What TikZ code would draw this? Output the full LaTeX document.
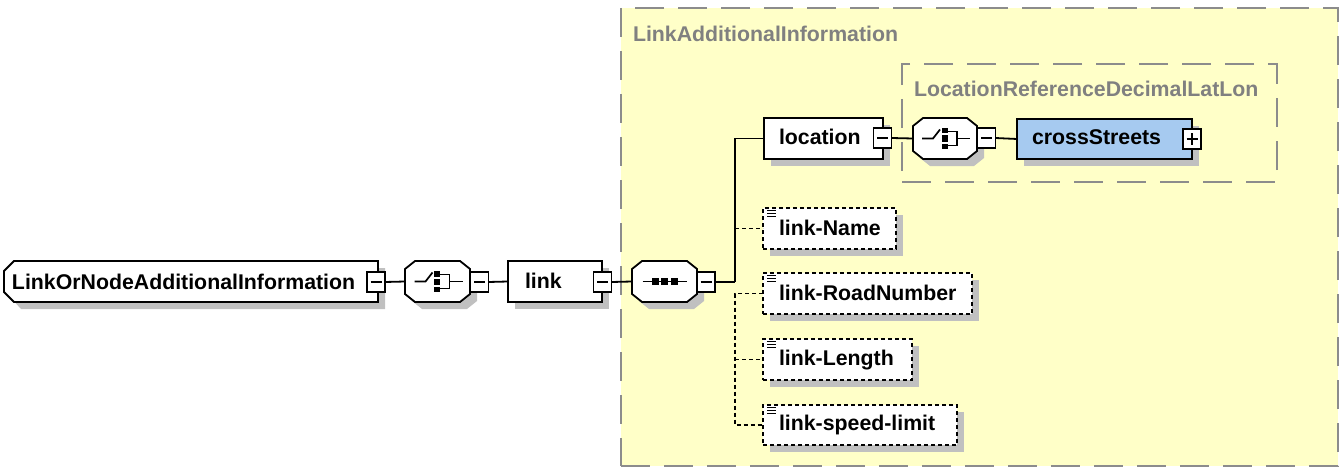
\documentclass[tikz,border=0pt]{standalone}
\usepackage{fontspec}
\setmainfont{Liberation Sans}
\usetikzlibrary{calc,shadows}
\definecolor{grpyellow}{RGB}{255,255,200}
\definecolor{grpline}{RGB}{140,140,140}
\definecolor{grptext}{RGB}{128,128,128}
\definecolor{shadowgray}{RGB}{192,192,192}
\definecolor{elemblue}{RGB}{166,202,240}
\tikzset{
  grp/.style={draw=grpline, fill=grpyellow, line width=2pt, dash pattern=on 29pt off 14pt, inner sep=0pt, outer sep=0pt},
  grplabel/.style={text=grptext, inner sep=0pt, outer sep=0pt},
  elem/.style={draw=black, fill=white, line width=1.8pt, inner sep=0pt, outer sep=0pt,
    drop shadow={shadow xshift=7pt, shadow yshift=-7pt, fill=shadowgray, opacity=1}},
  optelem/.style={elem, dash pattern=on 4pt off 3pt},
  holder/.style={draw=none, inner sep=0pt, outer sep=0pt},
  lbl/.style={inner sep=0pt, outer sep=0pt, text=black},
  mbox/.style={draw=black, fill=white, line width=1.6pt, minimum width=18pt, minimum height=20pt, inner sep=0pt, outer sep=0pt,
    path picture={\draw[line width=1.6pt] ([xshift=3.5pt]path picture bounding box.west) -- ([xshift=-3.5pt]path picture bounding box.east);}},
  pbox/.style={mbox,
    path picture={\draw[line width=1.6pt] ([xshift=3.5pt]path picture bounding box.west) -- ([xshift=-3.5pt]path picture bounding box.east);
                  \draw[line width=1.6pt] ([yshift=-4.5pt]path picture bounding box.north) -- ([yshift=4.5pt]path picture bounding box.south);}},
  conn/.style={draw=black, line width=1.8pt},
  oconn/.style={draw=black, line width=1.8pt, dash pattern=on 4pt off 3pt},
  octo/.style={draw=black, fill=white, line width=1.8pt},
  octshadow/.style={fill=shadowgray},
  icon/.style={draw=black, line width=1.7pt},
}
\newcommand\octpath[3]{([shift={(10+#2,#3)}]#1.north west) -- ([shift={(-10+#2,#3)}]#1.north east) -- ([shift={(#2,8+#3)}]#1.north east) -- ([shift={(#2,-8+#3)}]#1.south east) -- ([shift={(-10+#2,#3)}]#1.south east) -- ([shift={(10+#2,#3)}]#1.south west) -- ([shift={(#2,-8+#3)}]#1.south west) -- ([shift={(#2,8+#3)}]#1.north west) -- cycle}
\newcommand\drawocto[1]{\fill[octshadow] \octpath{#1}{7}{7}; \draw[octo] \octpath{#1}{0}{0};}
\newcommand\choiceicon[1]{%
  \draw[icon] ([shift={(-23,0)}]#1.center) -- ([shift={(-12,0)}]#1.center) -- ([shift={(-5,-9)}]#1.center);
  \fill ([shift={(-3.5,-10.5)}]#1.center) rectangle ([shift={(2.5,-5)}]#1.center);
  \fill ([shift={(-3.5,-3)}]#1.center) rectangle ([shift={(2.5,3)}]#1.center);
  \fill ([shift={(-3.5,5)}]#1.center) rectangle ([shift={(2.5,10.5)}]#1.center);
  \draw[icon] ([shift={(2,-7)}]#1.center) -- ([shift={(12,-7)}]#1.center) -- ([shift={(12,7)}]#1.center) -- ([shift={(2,7)}]#1.center);
  \draw[icon] ([shift={(12,0)}]#1.center) -- ([shift={(25,0)}]#1.center);}
\newcommand\seqicon[1]{%
  \draw[icon] ([shift={(-22,0)}]#1.center) -- ([shift={(22,0)}]#1.center);
  \fill ([shift={(-13,-3.5)}]#1.center) rectangle ([shift={(-6,3.5)}]#1.center);
  \fill ([shift={(-3.5,-3.5)}]#1.center) rectangle ([shift={(3.5,3.5)}]#1.center);
  \fill ([shift={(6,-3.5)}]#1.center) rectangle ([shift={(13,3.5)}]#1.center);}
\newcommand\texticon[1]{%
  \draw[line width=1.3pt] ([shift={(4,2.5)}]#1.north west) -- ([shift={(13,2.5)}]#1.north west);
  \draw[line width=1.3pt] ([shift={(4,5.5)}]#1.north west) -- ([shift={(13,5.5)}]#1.north west);
  \draw[line width=1.3pt] ([shift={(4,8.5)}]#1.north west) -- ([shift={(13,8.5)}]#1.north west);}
\begin{document}
\begin{tikzpicture}[x=1pt, y=-1pt, font=\fontsize{21.3}{25}\selectfont\bfseries]
\useasboundingbox (0,0) rectangle (1343,468);
% groups
\node[grp, anchor=north west, minimum width=717pt, minimum height=458pt] (gLAI) at (621,8) {};
\node[grplabel, anchor=base west] (tLAI) at (633,42) {LinkAdditionalInformation};
\node[grp, anchor=north west, minimum width=375pt, minimum height=118pt] (gLRD) at (902,64) {};
\node[grplabel, anchor=base west] (tLRD) at (914,97) {LocationReferenceDecimalLatLon};
% root element with chamfered left end
\node[holder, minimum width=374pt, minimum height=41pt] (root) at (191,281.5) {};
\fill[shadowgray] ([shift={(17,7)}]root.north west) -- ([shift={(7,7)}]root.north east) -- ([shift={(7,7)}]root.south east) -- ([shift={(17,7)}]root.south west) -- ([shift={(7,-4)}]root.south west) -- ([shift={(7,18)}]root.north west) -- cycle;
\draw[octo] ([shift={(10,0)}]root.north west) -- (root.north east) -- (root.south east) -- ([shift={(10,0)}]root.south west) -- ([shift={(0,-10)}]root.south west) -- ([shift={(0,10)}]root.north west) -- cycle;
\node[lbl, anchor=base west] (troot) at (12,289) {LinkOrNodeAdditionalInformation};
\node[mbox] (rootm) at (376,282) {};
% choice 1
\node[holder, minimum width=65pt, minimum height=41pt] (ch1) at (437.5,281.5) {};
\drawocto{ch1}
\choiceicon{ch1}
\node[mbox] (ch1m) at (479.5,282) {};
% link
\node[elem, minimum width=94pt, minimum height=41pt] (link) at (555,281.5) {};
\node[lbl, anchor=base west] (tlink) at (525,288) {link};
\node[mbox] (linkm) at (602.5,282) {};
% sequence
\node[holder, minimum width=65pt, minimum height=41pt] (seq) at (664.5,281.5) {};
\drawocto{seq}
\seqicon{seq}
\node[mbox] (seqm) at (706,282) {};
\coordinate (br) at (735,282);
% location
\node[elem, minimum width=119pt, minimum height=41pt] (loc) at (823.5,138.5) {};
\node[lbl, anchor=base west] (tloc) at (779,145) {location};
\node[mbox] (locm) at (882.5,138) {};
% choice 2
\node[holder, minimum width=64pt, minimum height=41pt] (ch2) at (945,138.5) {};
\drawocto{ch2}
\choiceicon{ch2}
\node[mbox] (ch2m) at (986.5,138) {};
% crossStreets
\node[elem, fill=elemblue, minimum width=175pt, minimum height=40pt] (cross) at (1104.5,139) {};
\node[lbl, anchor=base west] (tcross) at (1032,145) {crossStreets};
\node[pbox] (crossp) at (1192,139) {};
% optional elements
\node[optelem, minimum width=133pt, minimum height=41pt] (lname) at (829.5,228.5) {};
\texticon{lname}
\node[lbl, anchor=base west] (tlname) at (779,235) {link-Name};
\node[optelem, minimum width=209pt, minimum height=41pt] (lroad) at (867.5,293.5) {};
\texticon{lroad}
\node[lbl, anchor=base west] (tlroad) at (779,300) {link-RoadNumber};
\node[optelem, minimum width=149pt, minimum height=41pt] (llen) at (837.5,359.5) {};
\texticon{llen}
\node[lbl, anchor=base west] (tllen) at (779,365) {link-Length};
\node[optelem, minimum width=194pt, minimum height=40pt] (lspeed) at (860,425) {};
\texticon{lspeed}
\node[lbl, anchor=base west] (tlspeed) at (779,430) {link-speed-limit};
% connectors
\draw[conn] (rootm.east) -- (ch1.west);
\draw[conn] (ch1m.east) -- (link.west);
\draw[conn] (linkm.east) -- (seq.west);
\draw[conn] (seqm.east) -- (br);
\draw[conn] (br) |- (loc.west);
\draw[conn] (locm.east) -- (ch2.west);
\draw[conn] (ch2m.east) -- (cross.west);
\draw[oconn] (lname.west -| br) -- (lname.west);
\draw[oconn] (lroad.west) -- (lroad.west -| br) -- (lspeed.west -| br) -- (lspeed.west);
\draw[oconn] (llen.west -| br) -- (llen.west);
\end{tikzpicture}
\end{document}
